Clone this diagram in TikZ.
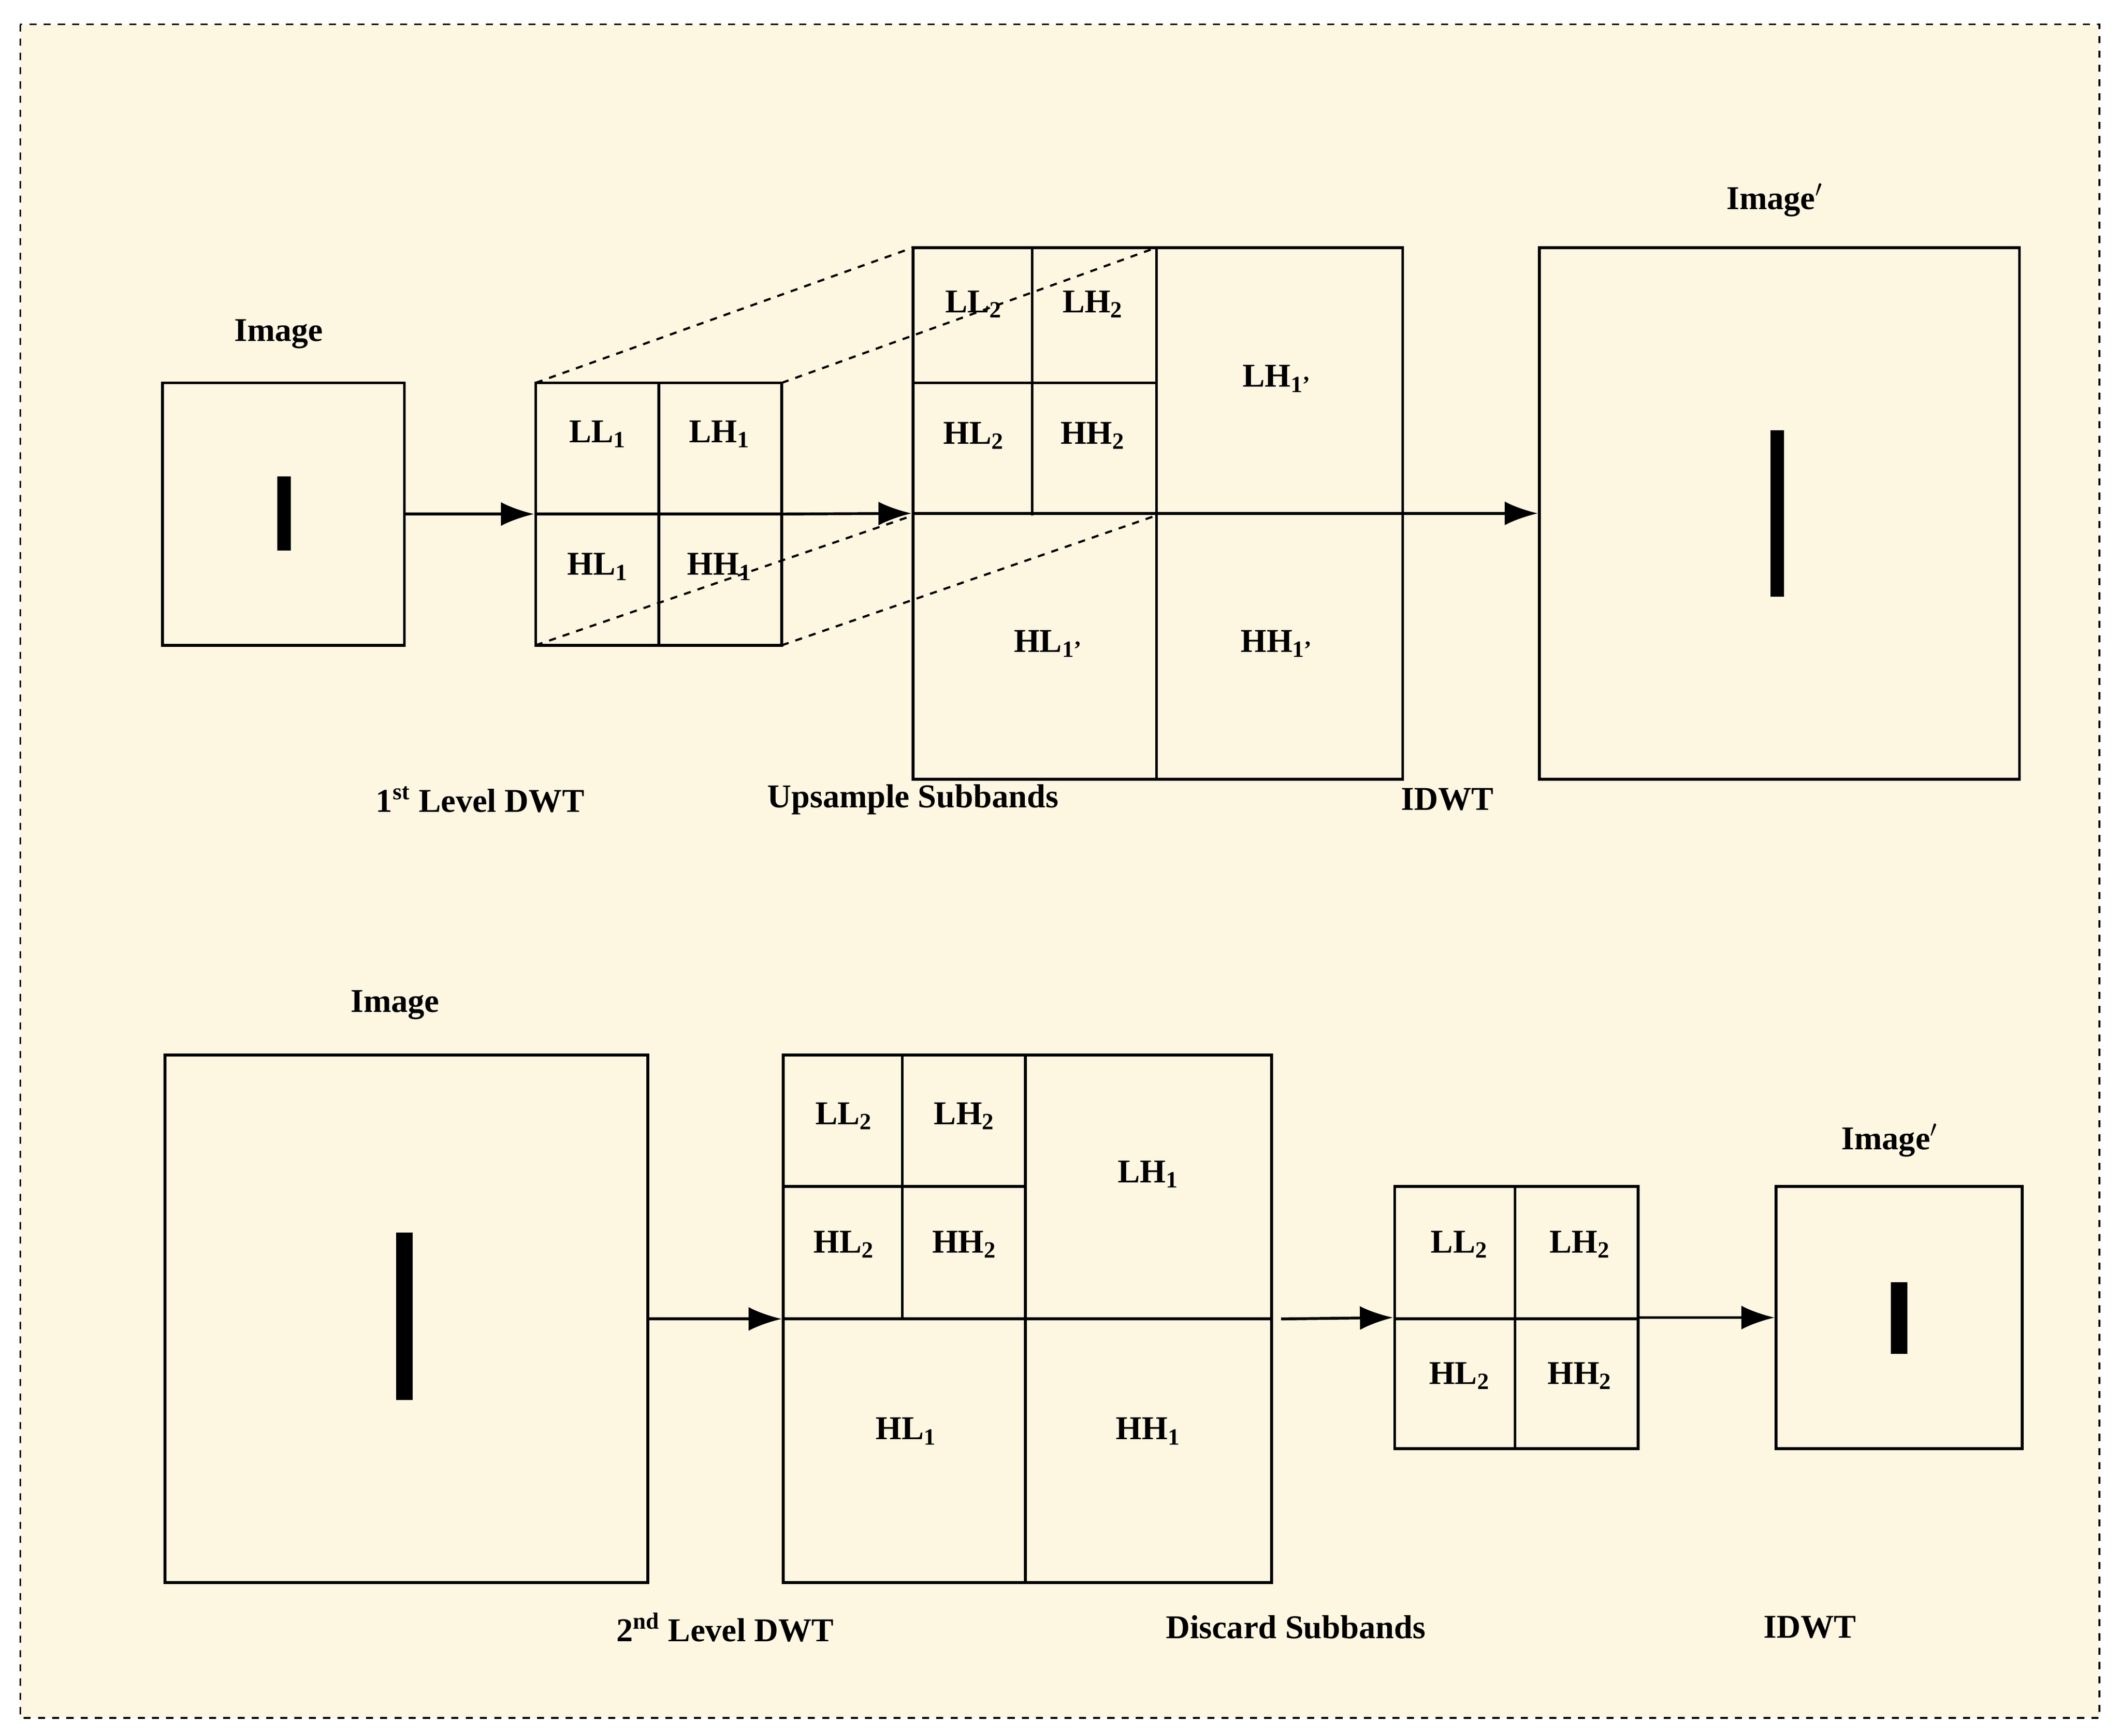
\documentclass[tikz,border=0pt]{standalone}
\usepackage{fontspec}
\setmainfont{Liberation Serif}
\usetikzlibrary{arrows.meta}
\definecolor{cream}{HTML}{FDF6E1}
\begin{document}
\begin{tikzpicture}[x=0.02cm,y=-0.02cm,
  box/.style={draw,line width=1.2pt,inner sep=0,anchor=center},
  lbl/.style={font=\fontsize{14}{16}\selectfont\bfseries},
  arr/.style={line width=1.2pt,-{Latex[length=14pt,width=10pt]}},
  dsh/.style={dashed,line width=0.9pt},
  grid/.style={line width=1.2pt},
  bar/.style={fill=black}]
\useasboundingbox (0,0) rectangle (1568,1283);
\fill[white] (0,0) rectangle (1568,1283);
\draw[fill=cream,dashed,line width=0.8pt] (15,18) rectangle (1552,1270);
% ---- top row
\node[box,minimum width=3.58cm,minimum height=3.88cm] (i1) at (209.5,380) {};
\fill[bar] (205,352) rectangle (215,407);
\node[lbl] (ti1) at (206,247) {Image};
\node[box,minimum width=3.64cm,minimum height=3.88cm] (d1) at (487,380) {};
\draw[grid] (487,283) -- (487,477) (396,380) -- (578,380);
\node[lbl] at (442,321) {LL\textsubscript{1}};
\node[lbl] at (532,321) {LH\textsubscript{1}};
\node[lbl] at (442,419) {HL\textsubscript{1}};
\node[lbl] at (532,419) {HH\textsubscript{1}};
\node[box,minimum width=7.24cm,minimum height=7.86cm] (u1) at (856,379.5) {};
\draw[grid] (855,183) -- (855,576) (763,183) -- (763,381) (675,283) -- (855,283);
\node[lbl] at (720,225) {LL\textsubscript{2}};
\node[lbl] at (808,225) {LH\textsubscript{2}};
\node[lbl] at (720,322) {HL\textsubscript{2}};
\node[lbl] at (808,322) {HH\textsubscript{2}};
\node[lbl] at (944,280) {LH\textsubscript{1'}};
\node[lbl] at (775,476) {HL\textsubscript{1'}};
\node[lbl] at (944,476) {HH\textsubscript{1'}};
\draw[dsh] (396,283) -- (675,183) (578,283) -- (855,183) (396,477) -- (675,381) (578,477) -- (855,381);
\node[box,minimum width=7.10cm,minimum height=7.86cm] (o1) at (1315.5,379.5) {};
\fill[bar] (1309,318) rectangle (1319,441);
\node[lbl] at (1312,148) {Image$'$};
\draw[arr] (i1.east) -- (d1.west);
\draw[arr] (d1.east) -- (u1.west);
\draw[grid] (u1.west) -- (u1.east);
\draw[arr] (u1.east) -- (o1.west);
\node[lbl] at (355,591) {1\textsuperscript{st} Level DWT};
\node[lbl] at (675,591) {Upsample Subbands};
\node[lbl] at (1070,591) {IDWT};
% ---- bottom row
\node[box,minimum width=7.14cm,minimum height=7.8cm] (i2) at (300.5,975) {};
\fill[bar] (293,911) rectangle (305,1035);
\node[lbl] at (292,743) {Image};
\node[box,minimum width=7.22cm,minimum height=7.8cm] (d2) at (759.5,975) {};
\draw[grid] (758,780) -- (758,1170) (667,780) -- (667,975) (579,877) -- (758,877) (579,975) -- (940,975);
\node[lbl] at (624,825) {LL\textsubscript{2}};
\node[lbl] at (713,825) {LH\textsubscript{2}};
\node[lbl] at (624,920) {HL\textsubscript{2}};
\node[lbl] at (713,920) {HH\textsubscript{2}};
\node[lbl] at (849,868) {LH\textsubscript{1}};
\node[lbl] at (670,1058) {HL\textsubscript{1}};
\node[lbl] at (849,1058) {HH\textsubscript{1}};
\node[box,minimum width=3.6cm,minimum height=3.88cm] (s2) at (1121,974) {};
\draw[grid] (1120,877) -- (1120,1071) (1031,975) -- (1211,975);
\node[lbl] at (1079,920) {LL\textsubscript{2}};
\node[lbl] at (1168,920) {LH\textsubscript{2}};
\node[lbl] at (1079,1017) {HL\textsubscript{2}};
\node[lbl] at (1168,1017) {HH\textsubscript{2}};
\node[box,minimum width=3.64cm,minimum height=3.88cm] (o2) at (1404,974) {};
\fill[bar] (1398,948) rectangle (1410,1001);
\node[lbl] at (1397,843) {Image$'$};
\draw[arr] (i2.east) -- (d2.west);
\draw[arr] (d2.east) ++(6,0) -- (s2.west);
\draw[arr] (s2.east) -- (o2.west);
\node[lbl] at (536,1203) {2\textsuperscript{nd} Level DWT};
\node[lbl] at (958,1203) {Discard Subbands};
\node[lbl] at (1338,1203) {IDWT};
\end{tikzpicture}
\end{document}
